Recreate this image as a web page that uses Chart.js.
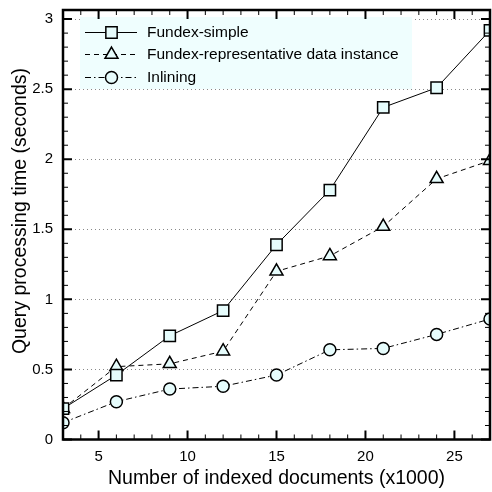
<!DOCTYPE html>
<html>
<head>
<meta charset="utf-8">
<script src="https://cdn.jsdelivr.net/npm/chart.js@4.4.0/dist/chart.umd.min.js"></script>
<style>
  html, body { margin: 0; padding: 0; background: #fff; }
</style>
</head>
<body>
<canvas id="chart" width="492" height="492"></canvas>
<script>
var docCounts = [3, 6, 9, 12, 15, 18, 21, 24, 27];
var fundexSimple = [0.22, 0.46, 0.74, 0.92, 1.39, 1.78, 2.37, 2.51, 2.92];
var fundexRepresentative = [0.22, 0.52, 0.54, 0.63, 1.20, 1.31, 1.52, 1.86, 1.99];
var inlining = [0.12, 0.27, 0.36, 0.38, 0.46, 0.64, 0.65, 0.75, 0.86];
var seriesNames = ["Fundex-simple", "Fundex-representative data instance", "Inlining"];
var xTicks = [5, 10, 15, 20, 25];
var yTicks = [0, 0.5, 1, 1.5, 2, 2.5, 3];

var FONT = "'Liberation Sans', Arial, Helvetica, sans-serif";
var markerFill = '#e6fcfc';

function toPoints(values) {
  return values.map(function(v, i) { return { x: docCounts[i], y: v }; });
}

function makeDataset(label, values, style, radius, dash) {
  return {
    label: label,
    data: toPoints(values),
    borderColor: '#000',
    borderWidth: 1,
    borderDash: dash,
    pointStyle: style,
    pointRadius: radius,
    pointBackgroundColor: markerFill,
    pointBorderColor: '#000',
    pointBorderWidth: 1.5,
    tension: 0,
    clip: 0
  };
}

var framePlugin = {
  id: 'frame',
  beforeDatasetsDraw: function(chart) {
    var ctx = chart.ctx, a = chart.chartArea, ys = chart.scales.y;
    ctx.save();
    // dotted horizontal grid
    ctx.strokeStyle = '#888';
    ctx.lineWidth = 1;
    ctx.setLineDash([1, 3]);
    yTicks.forEach(function(v) {
      if (v === 0) return;
      var py = Math.round(ys.getPixelForValue(v)) + 0.5;
      ctx.beginPath();
      ctx.moveTo(a.left, py);
      ctx.lineTo(a.right, py);
      ctx.stroke();
    });
    ctx.setLineDash([]);

    // legend box
    var lx = 80, ly = 17, lw = 332, lh = 72;
    ctx.fillStyle = '#effefe';
    ctx.fillRect(lx, ly, lw, lh);
    var rows = [32, 54, 77];
    chart.data.datasets.forEach(function(ds, i) {
      var ry = rows[i] + 0.5;
      ctx.strokeStyle = '#000';
      ctx.lineWidth = 1;
      ctx.setLineDash(ds.borderDash || []);
      ctx.beginPath();
      ctx.moveTo(85, ry);
      ctx.lineTo(137, ry);
      ctx.stroke();
      ctx.setLineDash([]);
      ctx.fillStyle = markerFill;
      ctx.lineWidth = 1.5;
      Chart.helpers.drawPoint(ctx, {
        pointStyle: ds.pointStyle, radius: ds.pointRadius, rotation: 0, borderWidth: 1.5
      }, 111.5, ry);
      ctx.fillStyle = '#000';
      ctx.font = '15.5px ' + FONT;
      ctx.textAlign = 'left';
      ctx.textBaseline = 'middle';
      ctx.fillText(ds.label, 147, ry);
    });
    ctx.restore();
  },
  afterDatasetsDraw: function(chart) {
    var ctx = chart.ctx, a = chart.chartArea, xs = chart.scales.x, ys = chart.scales.y;
    ctx.save();
    ctx.strokeStyle = '#000';
    // minor + major ticks, mirrored on all sides, pointing inward
    for (var i = 0; i <= 30; i++) {
      var major = i % 5 === 0;
      var py = ys.getPixelForValue(i / 10);
      var len = major ? 9 : 5;
      ctx.lineWidth = major ? 2 : 1;
      ctx.beginPath();
      ctx.moveTo(a.left, py); ctx.lineTo(a.left + len, py);
      ctx.moveTo(a.right, py); ctx.lineTo(a.right - len, py);
      ctx.stroke();
    }
    for (var x = 3; x <= 27; x++) {
      var majorX = x % 5 === 0;
      var px = xs.getPixelForValue(x);
      var lenX = majorX ? 9 : 5;
      ctx.lineWidth = majorX ? 2 : 1;
      ctx.beginPath();
      ctx.moveTo(px, a.bottom); ctx.lineTo(px, a.bottom - lenX);
      ctx.moveTo(px, a.top); ctx.lineTo(px, a.top + lenX);
      ctx.stroke();
    }
    // frame
    ctx.lineWidth = 2.5;
    ctx.strokeRect(a.left, a.top, a.right - a.left, a.bottom - a.top);

    // y axis title
    ctx.translate(21, 211);
    ctx.rotate(-Math.PI / 2);
    ctx.fillStyle = '#000';
    ctx.font = '19.5px ' + FONT;
    ctx.textAlign = 'center';
    ctx.textBaseline = 'middle';
    ctx.fillText('Query processing time (seconds)', 0, 0);
    ctx.restore();
  }
};

var config = {
  type: 'line',
  data: {
    datasets: [
      makeDataset(seriesNames[0], fundexSimple, 'rect', 8, []),
      makeDataset(seriesNames[1], fundexRepresentative, 'triangle', 7.5, [5, 4]),
      makeDataset(seriesNames[2], inlining, 'circle', 6, [6, 3, 1.5, 3])
    ]
  },
  options: {
    responsive: false,
    animation: false,
    layout: { autoPadding: false, padding: { top: 10, right: 2, bottom: 0, left: 0 } },
    plugins: {
      legend: { display: false },
      tooltip: { enabled: false }
    },
    scales: {
      x: {
        type: 'linear',
        min: 3,
        max: 27,
        afterBuildTicks: function(scale) {
          scale.ticks = xTicks.map(function(v) { return { value: v }; });
        },
        afterFit: function(scale) {
          scale.height = 52.5;
          scale.paddingLeft = 0;
          scale.paddingRight = 0;
        },
        grid: { display: false, drawTicks: false },
        border: { display: false },
        ticks: { autoSkip: false, maxRotation: 0, padding: 8, color: '#000', font: { family: FONT, size: 15 } },
        title: {
          display: true,
          text: 'Number of indexed documents (x1000)',
          color: '#000',
          font: { family: FONT, size: 19.5 },
          padding: { top: 0, bottom: 2 }
        }
      },
      y: {
        type: 'linear',
        min: 0,
        max: 3.065,
        afterBuildTicks: function(scale) {
          scale.ticks = yTicks.map(function(v) { return { value: v }; });
        },
        afterFit: function(scale) {
          scale.width = 63;
          scale.paddingTop = 0;
          scale.paddingBottom = 0;
        },
        grid: { display: false, drawTicks: false },
        border: { display: false },
        ticks: {
          autoSkip: false, padding: 10, color: '#000', font: { family: FONT, size: 15 },
          callback: function(v) { return String(v); }
        }
      }
    }
  },
  plugins: [framePlugin]
};

new Chart(document.getElementById('chart').getContext('2d'), config);
</script>
</body>
</html>
